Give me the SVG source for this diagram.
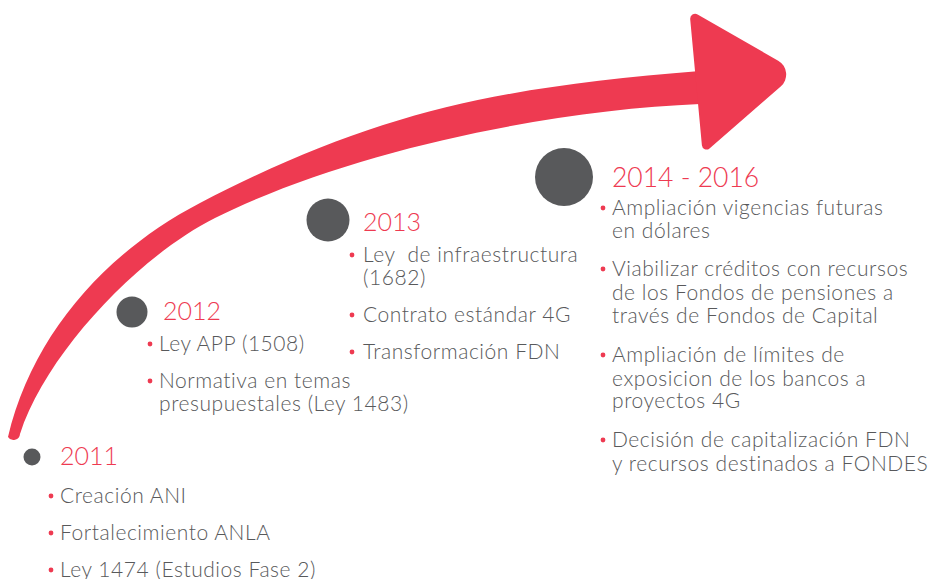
<svg xmlns="http://www.w3.org/2000/svg" width="931" height="579" viewBox="0 0 931 579">
<style>
.arrow{fill:#EE3A51;}
.dot{fill:#58595B;}
.yr{font-family:Lato,"Open Sans",sans-serif;font-weight:300;font-size:25px;fill:#EE3A51;}
.yr2{font-size:26.5px;}
.t{font-family:Lato,"Open Sans",sans-serif;font-weight:300;font-size:21px;letter-spacing:0.55px;fill:#58595B;}
.b{fill:#EE3A51;}
</style>
<g id="connectors">
<path class="arrow" d="M8,437 C32.2,334.3 106.3,251.7 200,203 C377.4,110.8 500.6,87 700,71 L700,104 C550,110 349.1,151 215,218 C139,256 46.1,353.1 20,434 A6.5,6.5 0 0 1 8,437 Z"/>
<path class="arrow" d="M701.9,145.3 L690.2,19.2 A5,5 0 0 1 697.6,14.4 L778.2,60.7 A15.9,15.9 0 0 1 780.7,86.5 L709.5,148.4 A4.6,4.6 0 0 1 701.9,145.3 Z"/>
</g>
<g id="n2011">
<circle class="dot" cx="32" cy="457" r="8.5"/>
<text class="yr" x="60" y="465">2011</text>
<circle class="b" cx="51" cy="496" r="2.4"/>
<text class="t" x="60" y="503">Creación ANI</text>
<circle class="b" cx="51" cy="533" r="2.4"/>
<text class="t" x="60" y="540">Fortalecimiento ANLA</text>
<circle class="b" cx="51" cy="570" r="2.4"/>
<text class="t" x="60" y="577">Ley 1474 (Estudios Fase 2)</text>
</g>
<g id="n2012">
<circle class="dot" cx="132" cy="312" r="15.5"/>
<text class="yr" x="163" y="320">2012</text>
<circle class="b" cx="150" cy="344" r="2.4"/>
<text class="t" x="159" y="351">Ley APP (1508)</text>
<circle class="b" cx="150" cy="381" r="2.4"/>
<text class="t" x="159" y="388">Normativa en temas</text>
<text class="t" x="159" y="411">presupuestales (Ley 1483)</text>
</g>
<g id="n2013">
<circle class="dot" cx="328" cy="220" r="21.5"/>
<text class="yr" x="363" y="231">2013</text>
<circle class="b" cx="352" cy="255" r="2.4"/>
<text class="t" x="363" y="262" xml:space="preserve">Ley  de infraestructura</text>
<text class="t" x="363" y="285">(1682)</text>
<circle class="b" cx="352" cy="315" r="2.4"/>
<text class="t" x="363" y="322">Contrato estándar 4G</text>
<circle class="b" cx="352" cy="352" r="2.4"/>
<text class="t" x="363" y="359">Transformación FDN</text>
</g>
<g id="n2014">
<circle class="dot" cx="564" cy="177" r="29"/>
<text class="yr yr2" x="612" y="187">2014 - 2016</text>
<circle class="b" cx="603" cy="208" r="2.4"/>
<text class="t" x="612" y="215">Ampliación vigencias futuras</text>
<text class="t" x="612" y="238">en dólares</text>
<circle class="b" cx="603" cy="269" r="2.4"/>
<text class="t" x="612" y="276">Viabilizar créditos con recursos</text>
<text class="t" x="612" y="300">de los Fondos de pensiones a</text>
<text class="t" x="612" y="323">través de Fondos de Capital</text>
<circle class="b" cx="603" cy="355" r="2.4"/>
<text class="t" x="612" y="362">Ampliación de límites de</text>
<text class="t" x="612" y="386">exposicion de los bancos a</text>
<text class="t" x="612" y="408">proyectos 4G</text>
<circle class="b" cx="603" cy="440" r="2.4"/>
<text class="t" x="612" y="447">Decisión de capitalización FDN</text>
<text class="t" x="612" y="471">y recursos destinados a FONDES</text>
</g>
</svg>
